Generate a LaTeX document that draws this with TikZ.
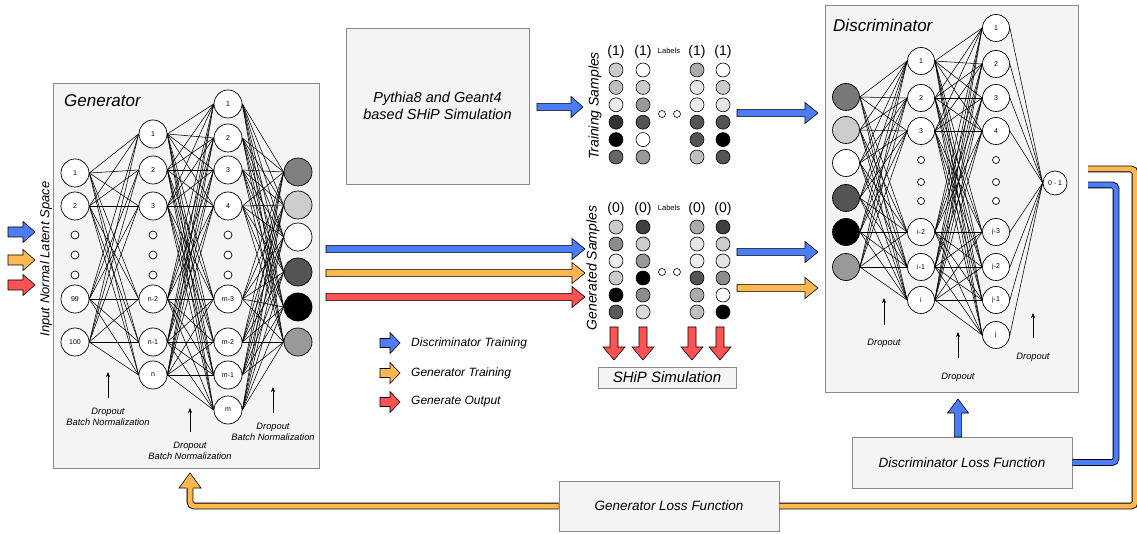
\documentclass[tikz,border=0pt]{standalone}
\usepackage{fontspec}
\setmainfont{Liberation Sans}
\usetikzlibrary{calc,arrows.meta}
\definecolor{boxfill}{HTML}{F4F4F4}
\definecolor{boxline}{HTML}{8A8A8A}
\definecolor{ablue}{HTML}{4C7CF7}
\definecolor{aorange}{HTML}{FFB850}
\definecolor{ared}{HTML}{FF5353}
% #1 from, #2 to, #3 colour, #4 shaft half width, #5 head half width, #6 head length
\newcommand\fatarrow[6]{%
  \path ($(#2)!#6!(#1)$) coordinate (fahead);
  \filldraw[fill=#3,draw=black,line width=0.6pt,line join=miter]
    ($(#1)!#4!90:(#2)$) -- ($(fahead)!#4!90:(#2)$) -- ($(fahead)!#5!90:(#2)$) -- (#2)
    -- ($(fahead)!#5!-90:(#2)$) -- ($(fahead)!#4!-90:(#2)$) -- ($(#1)!#4!-90:(#2)$) -- cycle;}
\begin{document}
\begin{tikzpicture}[x=1pt,y=-1pt,
  box/.style={draw=boxline,fill=boxfill,line width=0.8pt,inner sep=0pt},
  neu/.style={circle,draw=black,line width=0.7pt,fill=white,inner sep=0pt,minimum size=28pt,font=\fontsize{7}{8}\selectfont},
  dneu/.style={neu,minimum size=27pt},
  dotn/.style={circle,draw=black,line width=0.7pt,fill=white,inner sep=0pt,minimum size=8pt},
  smp/.style={circle,draw=black,line width=0.6pt,inner sep=0pt,minimum size=14pt},
  edge/.style={line width=0.55pt},
  ptr/.style={-{Stealth[length=5pt,width=4pt]},line width=0.6pt},
  note/.style={font=\fontsize{9.3}{11}\selectfont\itshape,align=center,inner sep=0pt},
  title/.style={font=\fontsize{17}{20}\selectfont\itshape,inner sep=0pt},
  side/.style={font=\fontsize{14}{16}\selectfont\itshape,rotate=90,inner sep=0pt},
  lab/.style={font=\fontsize{14}{16}\selectfont,inner sep=0pt},
  tinylab/.style={font=\fontsize{7.5}{8}\selectfont,inner sep=0pt},
  boxtext/.style={font=\fontsize{13.5}{17}\selectfont\itshape,align=center},
  legtext/.style={font=\fontsize{12}{14}\selectfont\itshape,anchor=west,inner sep=0pt},
  pipe/.style={draw=black,line width=0.9pt,double distance=5pt,rounded corners=4pt},
]
\useasboundingbox (0,0) rectangle (1137,534);

% ================= Generator =================
\node[box,minimum width=266pt,minimum height=385pt] (genbox) at (186,275.5) {};
\node[title,anchor=west] (gentitle) at (64,101) {Generator};
\node[font=\fontsize{13}{15}\selectfont\itshape,rotate=90,inner sep=0pt] (latent) at (46,259) {Input Normal Latent Space};

\foreach \t/\y [count=\i] in {1/173,2/206,99/299,100/342}
  \node[neu] (ga\i) at (75,\y) {\t};
\foreach \t/\y [count=\i] in {1/134,2/170,3/206,n-2/299,n-1/342,n/375}
  \node[neu] (gb\i) at (153,\y) {\t};
\foreach \t/\y [count=\i] in {1/104,2/138,3/170,4/206,m-3/299,m-2/342,m-1/375,m/410}
  \node[neu] (gc\i) at (228,\y) {\t};
\foreach \c/\y [count=\i] in {50/172,20/205,0/237,67/272,100/307,40/342}
  \node[neu,fill=black!\c] (gd\i) at (298,\y) {};
\foreach \x [count=\k] in {75,153,228}
  \foreach \y [count=\m] in {235,255,275}
    \node[dotn] (gdot\k-\m) at (\x,\y) {};

\foreach \i in {1,...,4} \foreach \j in {1,...,6} \draw[edge] (ga\i.east) -- (gb\j.west);
\foreach \i in {1,...,6} \foreach \j in {1,...,8} \draw[edge] (gb\i.east) -- (gc\j.west);
\foreach \i in {1,...,8} \foreach \j in {1,...,6} \draw[edge] (gc\i.east) -- (gd\j.west);

\node[note] (gn1) at (108,417) {Dropout\\Batch Normalization};
\node[note] (gn2) at (190,451) {Dropout\\Batch Normalization};
\node[note] (gn3) at (273,432) {Dropout\\Batch Normalization};
\draw[ptr] (108,398) -- (108,372);
\draw[ptr] (190,432) -- (190,408);
\draw[ptr] (273,413) -- (273,387);

% input arrows
\coordinate (ib1) at (8,232);  \coordinate (ie1) at (35,232);
\coordinate (ib2) at (8,260);  \coordinate (ie2) at (35,260);
\coordinate (ib3) at (8,285);  \coordinate (ie3) at (35,285);
\fatarrow{ib1}{ie1}{ablue}{5pt}{10.5pt}{12pt}
\fatarrow{ib2}{ie2}{aorange}{5pt}{10.5pt}{12pt}
\fatarrow{ib3}{ie3}{ared}{5pt}{10.5pt}{12pt}

% ================= Simulation box =================
\node[box,minimum width=183pt,minimum height=156pt,boxtext,font=\fontsize{14.5}{17}\selectfont\itshape] (pythia) at (437.5,106) {Pythia8 and Geant4\\based SHiP Simulation};

% ================= Samples =================
\node[side] (tslab) at (595,106) {Training Samples};
\node[side] (gslab) at (593,268) {Generated Samples};

\foreach \x/\cols [count=\c] in {616/{20,25,7,80,100,60},643/{0,20,40,67,0,40},697/{33,10,7,67,67,25},723/{0,20,10,67,100,67}}
  \foreach \g [count=\r] in \cols
    \node[smp,fill=black!\g] (ts\c-\r) at (\x,{70+17.4*(\r-1)}) {};
\foreach \x/\cols [count=\c] in {616/{20,45,7,20,100,65},643/{75,20,40,100,45,15},697/{33,10,7,67,33,25},723/{75,20,10,45,0,100}}
  \foreach \g [count=\r] in \cols
    \node[smp,fill=black!\g] (gs\c-\r) at (\x,{227+17*(\r-1)}) {};

\foreach \x [count=\c] in {616,643,697,723} {
  \node[lab] (tl\c) at (\x,52) {(1)};
  \node[lab] (gl\c) at (\x,209) {(0)};
}
\node[tinylab] (tlabels) at (669,51) {Labels};
\node[tinylab] (glabels) at (669,208) {Labels};
\node[circle,draw=black,line width=0.6pt,fill=white,inner sep=0pt,minimum size=7pt] (td1) at (662,114) {};
\node[circle,draw=black,line width=0.6pt,fill=white,inner sep=0pt,minimum size=7pt] (td2) at (677,114) {};
\node[circle,draw=black,line width=0.6pt,fill=white,inner sep=0pt,minimum size=7pt] (gdt1) at (662,272) {};
\node[circle,draw=black,line width=0.6pt,fill=white,inner sep=0pt,minimum size=7pt] (gdt2) at (677,272) {};

\node[box,minimum width=138pt,minimum height=21pt,font=\fontsize{15}{17}\selectfont\itshape] (ship) at (667,377.5) {SHiP Simulation};

% arrows into sample blocks
\coordinate (pa) at (537,107); \coordinate (pb) at (583,107);
\fatarrow{pa}{pb}{ablue}{3.6pt}{10.5pt}{12pt}
\coordinate (gab) at (326,249); \coordinate (gae) at (585,249);
\coordinate (gob) at (326,273); \coordinate (goe) at (585,273);
\coordinate (grb) at (326,297); \coordinate (gre) at (585,297);
\fatarrow{gab}{gae}{ablue}{3.6pt}{10.5pt}{13pt}
\fatarrow{gob}{goe}{aorange}{3.6pt}{10.5pt}{13pt}
\fatarrow{grb}{gre}{ared}{3.6pt}{10.5pt}{13pt}

% red arrows down to SHiP simulation
\foreach \x [count=\c] in {614,643,692,720} {
  \coordinate (rd\c s) at (\x,327);
  \coordinate (rd\c e) at (\x,360);
  \fatarrow{rd\c s}{rd\c e}{ared}{4pt}{11pt}{13pt}
}

% arrows to discriminator
\coordinate (tda) at (737,113); \coordinate (tdb) at (818,113);
\coordinate (gda) at (737,252); \coordinate (gdb) at (818,252);
\coordinate (goa) at (737,288); \coordinate (gob2) at (818,288);
\fatarrow{tda}{tdb}{ablue}{3.6pt}{10.5pt}{13pt}
\fatarrow{gda}{gdb}{ablue}{3.6pt}{10.5pt}{13pt}
\fatarrow{goa}{gob2}{aorange}{3.6pt}{10.5pt}{13pt}

% ================= Discriminator =================
\node[box,minimum width=253pt,minimum height=387pt] (discbox) at (951.5,198.5) {};
\node[title,anchor=west] (disctitle) at (833,25) {Discriminator};

\foreach \c/\y [count=\i] in {53/97,20/130,0/163,67/198,100/232,40/267}
  \node[dneu,fill=black!\c] (da\i) at (846,\y) {};
\foreach \t/\y [count=\i] in {1/61,2/98,3/131,i-2/232,i-1/267,i/300}
  \node[dneu] (db\i) at (921,\y) {\t};
\foreach \t/\y [count=\i] in {1/28,2/64,3/98,4/131,j-3/232,j-2/267,j-1/300,j/335}
  \node[dneu] (dc\i) at (996,\y) {\t};
\node[neu,minimum size=24pt] (dout) at (1055,183) {0 - 1};
\foreach \x [count=\k] in {921,996}
  \foreach \y [count=\m] in {160,182,201}
    \node[dotn,minimum size=7pt] (ddot\k-\m) at (\x,\y) {};

\foreach \i in {1,...,6} \foreach \j in {1,...,6} \draw[edge] (da\i.east) -- (db\j.west);
\foreach \i in {1,...,6} \foreach \j in {1,...,8} \draw[edge] (db\i.east) -- (dc\j.west);
\foreach \i in {1,...,8} \draw[edge] (dc\i.east) -- (dout.west);

\node[note] (dn1) at (884,343) {Dropout};
\node[note] (dn2) at (958,377) {Dropout};
\node[note] (dn3) at (1033,357) {Dropout};
\draw[ptr] (884,325) -- (884,298);
\draw[ptr] (958,358) -- (958,332);
\draw[ptr] (1033,338) -- (1033,313);

% ================= Loss functions =================
\node[box,minimum width=220pt,minimum height=51pt,boxtext] (dloss) at (962,462.5) {Discriminator Loss Function};
\node[box,minimum width=220pt,minimum height=50pt,boxtext] (gloss) at (669,506) {Generator Loss Function};

\coordinate (dla) at (958,437); \coordinate (dlb) at (958,399);
\fatarrow{dla}{dlb}{ablue}{3.6pt}{10.5pt}{14pt}

\coordinate (bpend) at (1088,185);
\draw[pipe,double=ablue] (dloss.east) -- (1116,462.5) |- (bpend);

\coordinate (opstart) at (1088,169);
\draw[pipe,double=aorange] (opstart) -- (1135,169) |- (gloss.east);
\coordinate (ohead) at (190,488);
\draw[pipe,double=aorange] (gloss.west) -| (ohead);
\filldraw[fill=aorange,draw=black,line width=0.6pt]
  ($(ohead)+(-3.4,0)$) -- ($(ohead)+(-11,0)$) -- ($(ohead)+(0,-15)$) -- ($(ohead)+(11,0)$) -- ($(ohead)+(3.4,0)$);

% ================= Legend =================
\coordinate (l1a) at (380,343); \coordinate (l1b) at (400,343);
\coordinate (l2a) at (380,373); \coordinate (l2b) at (400,373);
\coordinate (l3a) at (380,402); \coordinate (l3b) at (400,402);
\fatarrow{l1a}{l1b}{ablue}{4.5pt}{10.5pt}{10pt}
\fatarrow{l2a}{l2b}{aorange}{4.5pt}{10.5pt}{10pt}
\fatarrow{l3a}{l3b}{ared}{4.5pt}{10.5pt}{10pt}
\node[legtext] (leg1) at (411,343) {Discriminator Training};
\node[legtext] (leg2) at (411,373) {Generator Training};
\node[legtext] (leg3) at (411,402) {Generate Output};

\end{tikzpicture}
\end{document}
